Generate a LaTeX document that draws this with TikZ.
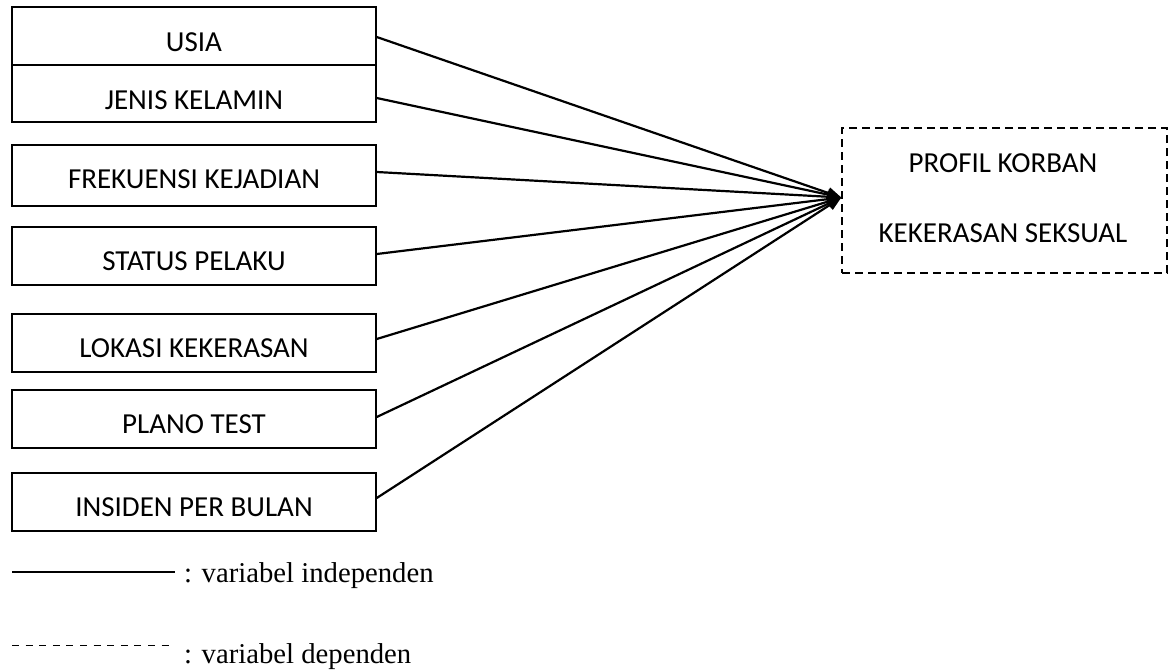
\documentclass[tikz,border=0pt]{standalone}
\usepackage{fontspec}
\setmainfont{Liberation Serif}
\newfontfamily\boxfont{Carlito}
\usetikzlibrary{arrows.meta}
\tikzset{
  varbox/.style={draw=black, line width=1.5pt, minimum width=364pt, inner sep=0pt, anchor=center},
  boxlbl/.style={font=\boxfont\fontsize{29pt}{34pt}\selectfont, inner sep=0pt, anchor=center},
  depbox/.style={draw=black, line width=1.3pt, dash pattern=on 8pt off 5pt, minimum width=325pt, minimum height=145pt, inner sep=0pt},
  conn/.style={draw=black, line width=2.2pt, -{Triangle[length=14pt,width=11pt]}},
  legtxt/.style={font=\fontsize{28.7pt}{34pt}\selectfont, inner sep=0pt, anchor=base west}
}
\begin{document}
\begin{tikzpicture}[x=1pt,y=-1pt]
\useasboundingbox (0,0) rectangle (1176,672);
% independent variable boxes
\node[varbox, minimum height=58pt] (usia) at (194,36) {};
\node[varbox, minimum height=57pt] (jenis) at (194,93.5) {};
\node[varbox, minimum height=61pt] (frek) at (194,175.5) {};
\node[varbox, minimum height=58pt] (status) at (194,256) {};
\node[varbox, minimum height=58pt] (lokasi) at (194,343) {};
\node[varbox, minimum height=58pt] (plano) at (194,419) {};
\node[varbox, minimum height=58pt] (insiden) at (194,502) {};
\node[boxlbl] (usiat) at (194,42.5) {USIA};
\node[boxlbl] (jenist) at (194,100) {JENIS KELAMIN};
\node[boxlbl] (frekt) at (194,179.5) {FREKUENSI KEJADIAN};
\node[boxlbl] (statust) at (194,261.5) {STATUS PELAKU};
\node[boxlbl] (lokasit) at (194,348.5) {LOKASI KEKERASAN};
\node[boxlbl] (planot) at (194,424.5) {PLANO TEST};
\node[boxlbl] (insident) at (194,507.5) {INSIDEN PER BULAN};
% dependent variable box
\node[depbox] (dep) at (1004.5,200.5) {};
\node[boxlbl] (dept1) at (1003,163) {PROFIL KORBAN};
\node[boxlbl] (dept2) at (1003,233) {KEKERASAN SEKSUAL};
\coordinate (tip) at ([yshift=3pt]dep.west);
% connectors
\draw[conn] ([yshift=-1pt]usia.east) -- (tip);
\draw[conn] ([yshift=-4.5pt]jenis.east) -- (tip);
\draw[conn] ([yshift=3.5pt]frek.east) -- (tip);
\draw[conn] ([yshift=2pt]status.east) -- (tip);
\draw[conn] ([yshift=4pt]lokasi.east) -- (tip);
\draw[conn] ([yshift=2pt]plano.east) -- (tip);
\draw[conn] ([yshift=4pt]insiden.east) -- (tip);
% legend
\coordinate (l1a) at (12,572);
\coordinate (l1b) at (175,572);
\coordinate (l2a) at (12,645);
\coordinate (l2b) at (175,645);
\draw[line width=1.3pt] (l1a) -- (l1b);
\draw[line width=1pt, dash pattern=on 7pt off 6.6pt] (l2a) -- (l2b);
\node[legtxt] (leg1) at (184,582) {: variabel independen};
\node[legtxt] (leg2) at (184,663) {: variabel dependen};
\end{tikzpicture}
\end{document}
